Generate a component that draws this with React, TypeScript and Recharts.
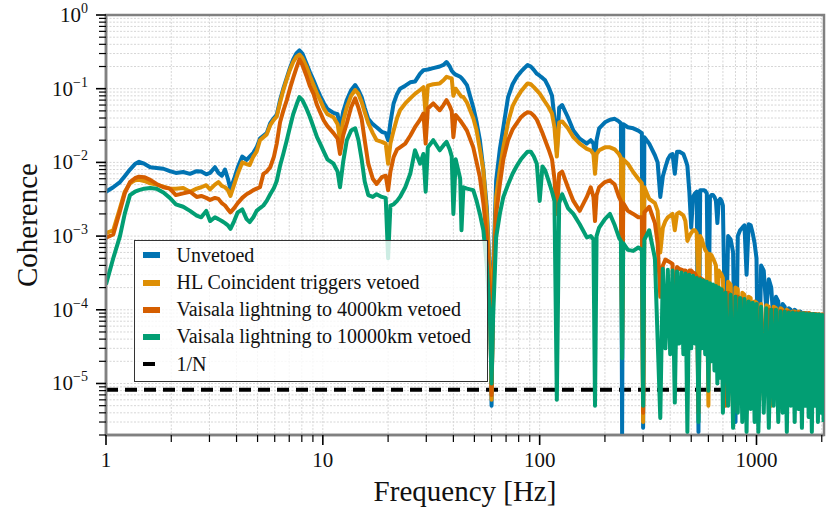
import { LineChart, Line, XAxis, YAxis, CartesianGrid, ReferenceArea } from "recharts";

const SERIF = '"Liberation Serif", "Times New Roman", serif';

const BLUE = "#0173B2";
const ORANGE = "#DE8F05";
const VERMILION = "#D55E00";
const GREEN = "#029E73";

// frequency grid shared by every spectrum (Hz)
const freqHz = [
  // 1 - 12 Hz
  1.0, 1.08, 1.16, 1.22, 1.29, 1.36, 1.42, 1.5, 1.6, 1.71,
  1.84, 1.97, 2.1, 2.27, 2.44, 2.62, 2.75, 2.9, 3.02, 3.18,
  3.3, 3.42, 3.54, 3.65, 3.75, 3.9, 4.05, 4.25, 4.45, 4.6,
  4.78, 4.95, 5.13, 5.32, 5.51, 5.72, 5.95, 6.13, 6.35, 6.57,
  6.82, 7.05, 7.3, 7.55, 7.8, 8.05, 8.4, 8.7, 9.06, 9.4,
  9.72, 10.1, 10.5, 11.2, 11.7,
  // 12 - 60 Hz
  12.0, 12.4, 12.9, 13.5, 14.1, 14.6, 15.1, 15.6, 16.2, 17.0,
  17.7, 18.7, 19.5, 20.0, 20.5, 21.2, 22.0, 22.7, 24.0, 25.3,
  26.6, 28.1, 29.1, 29.8, 30.5, 32.3, 34.6, 36.0, 37.2, 38.5,
  39.3, 40.0, 41.0, 43.0, 43.6, 44.5, 46.2, 49.4, 51.2, 53.0,
  55.0, 57.0, 59.0,
  // 60 - 320 Hz
  60, 61, 63, 65.5, 68, 71.5, 75, 78.5, 82, 85,
  88, 91, 94, 97, 100, 103, 106, 110, 114, 117,
  120, 123, 127, 135, 143, 153, 165, 172, 177, 180,
  183, 188, 200, 211, 222, 232, 237, 240, 243, 255,
  270, 285, 296, 300, 304, 320,
  // 340 - 700 Hz
  340, 350, 360, 370, 380, 390, 400, 410, 420, 430,
  440, 450, 460, 470, 480, 490, 500, 510, 520, 530,
  540, 550, 560, 570, 580, 590, 600, 610, 620, 630,
  640, 650, 660, 670, 680, 690, 700,
  // 720 - 1020 Hz
  720, 740, 760, 780, 800, 820, 840, 860, 880, 900,
  920, 940, 960, 980, 1000, 1020,
  // 1050 - 2040 Hz
  1050, 1080, 1110, 1140, 1170, 1200, 1230, 1260, 1290, 1320,
  1350, 1380, 1410, 1440, 1470, 1500, 1530, 1560, 1590, 1620,
  1650, 1680, 1710, 1740, 1770, 1800, 1830, 1860, 1890, 1920,
  1950, 1980, 2010, 2040,
];

const unvetoed = [
  4.0e-3, 4.6e-3, 5.4e-3, 6.5e-3, 8.0e-3, 9.5e-3, 1.02e-2, 9.6e-3, 8.6e-3, 8.4e-3,
  8.2e-3, 7.6e-3, 7.2e-3, 7.4e-3, 7.0e-3, 7.6e-3, 7.5e-3, 6.9e-3, 7.2e-3, 8.6e-3,
  7.2e-3, 6.6e-3, 8.0e-3, 6.0e-3, 4.3e-3, 6.0e-3, 8.5e-3, 1.2e-2, 1.08e-2, 1.2e-2,
  1.35e-2, 1.6e-2, 2.1e-2, 2.3e-2, 2.5e-2, 3.4e-2, 4.0e-2, 4.4e-2, 7.0e-2, 1.0e-1,
  1.4e-1, 1.9e-1, 2.5e-1, 3.0e-1, 3.3e-1, 3.0e-1, 2.2e-1, 1.7e-1, 1.3e-1, 1.0e-1,
  8.0e-2, 6.4e-2, 5.3e-2, 4.7e-2, 4.5e-2,

  2.9e-2, 4.8e-2, 7.0e-2, 9.5e-2, 1.12e-1, 9.5e-2, 7.7e-2, 5.5e-2, 3.9e-2, 3.3e-2,
  3.0e-2, 2.6e-2, 2.5e-2, 2.0e-2, 3.5e-2, 6.3e-2, 8.5e-2, 1.0e-1, 1.1e-1, 1.22e-1,
  1.25e-1, 1.6e-1, 1.78e-1, 1.8e-1, 1.82e-1, 1.9e-1, 2.0e-1, 2.1e-1, 2.3e-1, 2.0e-1,
  1.75e-1, 1.65e-1, 1.55e-1, 1.45e-1, 1.4e-1, 1.3e-1, 1.12e-1, 5.6e-2, 3.5e-2, 2.0e-2,
  8.0e-3, 2.5e-3, 3.0e-4,

  5.0e-6, 3.0e-4, 5.7e-3, 1.5e-2, 3.0e-2, 7.7e-2, 1.15e-1, 1.45e-1, 1.7e-1, 1.9e-1,
  2.1e-1, 2.0e-1, 1.8e-1, 1.6e-1, 1.5e-1, 1.4e-1, 1.3e-1, 1.05e-1, 8.0e-2, 4.0e-2,
  1.4e-2, 5.5e-2, 6.0e-2, 4.1e-2, 2.7e-2, 2.1e-2, 1.8e-2, 2.0e-2, 1.8e-2, 1.06e-2,
  2.0e-2, 2.9e-2, 3.5e-2, 3.8e-2, 3.9e-2, 3.6e-2, 3.4e-2, 2.0e-6, 3.3e-2, 3.0e-2,
  2.9e-2, 2.7e-2, 2.5e-2, 2.5e-6, 2.2e-2, 1.8e-2,

  1.25e-2, 1.0e-2, 3.4e-3, 6.5e-3, 8.6e-3, 1.1e-2, 1.25e-2, 1.3e-2, 7.0e-3, 1.4e-2,
  1.4e-2, 1.35e-2, 1.3e-2, 1.1e-2, 9.0e-3, 4.0e-3, 1.3e-3, 3.4e-3, 3.8e-3, 4.0e-3,
  2.2e-6, 4.2e-3, 4.2e-3, 4.2e-3, 4.1e-3, 3.8e-3, 3.0e-5, 3.4e-3, 3.6e-3, 3.6e-3,
  3.4e-3, 3.0e-3, 1.5e-3, 3.0e-3, 3.2e-3, 3.0e-3, 2.6e-3,

  2.0e-5, 1.0e-3, 9.0e-4, 6.0e-4, 3.0e-6, 1.0e-3, 1.2e-3, 1.3e-3, 1.4e-3, 3.0e-4,
  1.45e-3, 1.4e-3, 1.1e-3, 8.0e-4, 5.0e-4, 3.0e-6,

  4.0e-4, 3.4e-4, 1.0e-4, 2.6e-4, 2.0e-4, 6.0e-5, 1.5e-4, 1.3e-4, 4.0e-5, 1.2e-4,
  1.1e-4, 3.0e-5, 1.05e-4, 1.0e-4, 3.0e-5, 1.0e-4, 9.5e-5, 2.0e-5, 9.5e-5, 9.0e-5,
  2.0e-5, 9.0e-5, 9.0e-5, 2.0e-5, 8.8e-5, 8.8e-5, 2.0e-5, 8.6e-5, 8.6e-5, 2.0e-5,
  8.5e-5, 8.5e-5, 2.0e-5, 8.4e-5,
];

const hlVetoed = [
  1.1e-3, 1.2e-3, 2.4e-3, 4.0e-3, 5.2e-3, 5.7e-3, 5.8e-3, 5.6e-3, 5.2e-3, 5.0e-3,
  4.7e-3, 4.4e-3, 4.4e-3, 4.5e-3, 4.0e-3, 4.4e-3, 4.6e-3, 4.9e-3, 4.3e-3, 5.0e-3,
  5.4e-3, 4.8e-3, 4.6e-3, 4.2e-3, 3.5e-3, 5.0e-3, 7.0e-3, 1.0e-2, 9.5e-3, 9.2e-3,
  1.2e-2, 1.4e-2, 2.0e-2, 2.2e-2, 2.4e-2, 3.2e-2, 3.8e-2, 4.2e-2, 6.5e-2, 9.5e-2,
  1.35e-1, 1.8e-1, 2.3e-1, 2.7e-1, 2.9e-1, 2.6e-1, 2.0e-1, 1.5e-1, 1.12e-1, 8.6e-2,
  7.0e-2, 5.4e-2, 4.5e-2, 4.1e-2, 3.3e-2,

  2.0e-2, 3.6e-2, 5.6e-2, 8.0e-2, 9.6e-2, 8.5e-2, 6.6e-2, 4.8e-2, 3.4e-2, 2.5e-2,
  2.0e-2, 1.9e-2, 1.8e-2, 9.6e-3, 1.8e-2, 2.7e-2, 4.0e-2, 5.1e-2, 6.3e-2, 7.4e-2,
  8.5e-2, 9.6e-2, 1.05e-1, 4.5e-2, 1.1e-1, 1.15e-1, 1.18e-1, 1.3e-1, 1.45e-1, 1.4e-1,
  1.38e-1, 8.0e-2, 1.0e-1, 8.2e-2, 7.8e-2, 7.7e-2, 6.5e-2, 4.0e-2, 2.7e-2, 1.5e-2,
  7.8e-3, 2.0e-3, 2.5e-4,

  6.0e-6, 2.5e-4, 3.4e-3, 8.0e-3, 1.6e-2, 3.5e-2, 5.8e-2, 7.5e-2, 9.2e-2, 1.05e-1,
  1.18e-1, 1.15e-1, 1.05e-1, 9.5e-2, 8.6e-2, 7.5e-2, 6.6e-2, 5.6e-2, 4.6e-2, 3.0e-2,
  1.2e-2, 3.5e-2, 3.6e-2, 2.9e-2, 2.2e-2, 1.8e-2, 1.53e-2, 1.46e-2, 1.3e-2, 7.0e-3,
  1.3e-2, 1.46e-2, 1.6e-2, 1.6e-2, 1.5e-2, 1.3e-2, 1.15e-2, 3.0e-5, 1.1e-2, 9.6e-3,
  7.4e-3, 6.0e-3, 5.2e-3, 3.0e-6, 4.6e-3, 3.2e-3,

  2.8e-3, 2.2e-3, 6.0e-4, 1.3e-3, 1.6e-3, 1.8e-3, 1.9e-3, 2.0e-3, 1.2e-3, 2.0e-3,
  2.1e-3, 2.0e-3, 1.9e-3, 1.6e-3, 8.6e-4, 1.0e-3, 1.1e-3, 1.2e-3, 1.2e-3, 1.1e-3,
  1.5e-4, 1.0e-3, 9.0e-4, 7.5e-4, 6.5e-4, 6.0e-4, 5.0e-6, 5.7e-4, 5.5e-4, 5.0e-4,
  4.5e-4, 4.0e-4, 8.0e-5, 3.4e-4, 3.2e-4, 3.0e-4, 2.7e-4,

  8.0e-6, 2.4e-4, 2.2e-4, 4.0e-6, 2.0e-4, 1.9e-4, 1.0e-5, 1.7e-4, 1.6e-4, 4.0e-6,
  1.5e-4, 1.45e-4, 1.0e-5, 1.3e-4, 1.25e-4, 5.0e-6,

  1.2e-4, 6.0e-6, 1.15e-4, 1.1e-4, 5.0e-6, 1.1e-4, 1.05e-4, 8.0e-6, 1.05e-4, 1.0e-4,
  1.0e-5, 1.0e-4, 9.5e-5, 1.2e-5, 9.5e-5, 9.5e-5, 1.0e-5, 9.5e-5, 9.0e-5, 1.2e-5,
  9.0e-5, 9.0e-5, 1.0e-5, 9.0e-5, 8.8e-5, 1.2e-5, 8.8e-5, 8.8e-5, 1.0e-5, 8.6e-5,
  8.6e-5, 1.2e-5, 8.6e-5, 8.5e-5,
];

const vaisala4000 = [
  9.5e-4, 1.05e-3, 2.2e-3, 3.8e-3, 5.4e-3, 6.1e-3, 6.4e-3, 6.3e-3, 5.8e-3, 5.1e-3,
  4.6e-3, 4.4e-3, 3.6e-3, 3.8e-3, 4.0e-3, 3.4e-3, 3.5e-3, 3.3e-3, 3.1e-3, 3.3e-3,
  3.2e-3, 2.8e-3, 2.6e-3, 2.3e-3, 2.1e-3, 2.4e-3, 2.8e-3, 3.3e-3, 3.7e-3, 3.9e-3,
  4.2e-3, 4.4e-3, 4.6e-3, 7.0e-3, 7.5e-3, 8.6e-3, 1.2e-2, 1.8e-2, 3.5e-2, 5.0e-2,
  7.0e-2, 1.0e-1, 1.4e-1, 1.9e-1, 2.5e-1, 2.1e-1, 1.5e-1, 1.1e-1, 8.5e-2, 6.0e-2,
  4.8e-2, 3.7e-2, 3.1e-2, 2.5e-2, 2.1e-2,

  1.3e-2, 2.3e-2, 3.4e-2, 5.6e-2, 7.4e-2, 5.5e-2, 3.9e-2, 2.0e-2, 9.6e-3, 6.0e-3,
  5.1e-3, 6.3e-3, 6.6e-3, 4.2e-3, 7.5e-3, 1.18e-2, 1.5e-2, 1.6e-2, 1.8e-2, 2.3e-2,
  3.0e-2, 3.8e-2, 4.6e-2, 1.8e-2, 5.4e-2, 6.3e-2, 5.1e-2, 6.0e-2, 7.0e-2, 5.8e-2,
  5.0e-2, 2.2e-2, 4.4e-2, 3.7e-2, 3.5e-2, 3.2e-2, 2.7e-2, 1.6e-2, 1.0e-2, 6.3e-3,
  2.8e-3, 1.0e-3, 1.5e-4,

  7.0e-6, 1.5e-4, 2.0e-3, 5.0e-3, 1.1e-2, 2.0e-2, 2.8e-2, 3.4e-2, 4.1e-2, 4.5e-2,
  4.8e-2, 4.7e-2, 4.3e-2, 3.8e-2, 3.1e-2, 2.5e-2, 2.0e-2, 1.5e-2, 1.1e-2, 6.0e-3,
  2.0e-3, 7.0e-3, 7.5e-3, 4.6e-3, 3.0e-3, 2.2e-3, 3.4e-3, 4.6e-3, 3.4e-3, 1.6e-3,
  3.6e-3, 4.6e-3, 5.4e-3, 5.7e-3, 5.0e-3, 3.4e-3, 3.0e-3, 5.0e-5, 2.8e-3, 2.2e-3,
  2.0e-3, 1.8e-3, 1.8e-3, 4.0e-6, 2.1e-3, 2.5e-3,

  1.5e-3, 8.0e-4, 1.5e-4, 4.0e-4, 4.8e-4, 4.6e-4, 4.4e-4, 4.2e-4, 3.0e-5, 3.8e-4,
  3.6e-4, 3.5e-4, 3.4e-4, 3.4e-4, 2.0e-5, 3.4e-4, 3.4e-4, 3.2e-4, 3.1e-4, 2.8e-4,
  4.0e-6, 2.7e-4, 2.6e-4, 2.5e-4, 2.4e-4, 2.2e-4, 2.0e-5, 2.2e-4, 2.1e-4, 2.1e-4,
  2.0e-4, 2.0e-4, 1.5e-5, 1.9e-4, 1.9e-4, 1.85e-4, 1.8e-4,

  5.0e-6, 1.7e-4, 1.6e-4, 4.0e-6, 1.5e-4, 1.5e-4, 6.0e-6, 1.4e-4, 1.3e-4, 1.5e-5,
  1.25e-4, 1.2e-4, 5.0e-6, 1.15e-4, 1.1e-4, 1.5e-5,

  1.05e-4, 1.5e-5, 1.0e-4, 1.0e-4, 1.2e-5, 1.0e-4, 9.8e-5, 4.0e-6, 9.6e-5, 9.5e-5,
  1.5e-5, 9.4e-5, 9.4e-5, 1.2e-5, 9.2e-5, 9.2e-5, 1.5e-5, 9.2e-5, 9.0e-5, 1.2e-5,
  9.0e-5, 9.0e-5, 1.5e-5, 9.0e-5, 8.8e-5, 1.2e-5, 8.8e-5, 8.8e-5, 1.5e-5, 8.6e-5,
  8.6e-5, 1.2e-5, 8.6e-5, 8.5e-5,
];

const vaisala10000 = [
  2.2e-4, 5.0e-4, 1.0e-3, 2.0e-3, 3.6e-3, 4.0e-3, 4.2e-3, 4.4e-3, 4.5e-3, 4.4e-3,
  3.9e-3, 3.3e-3, 2.7e-3, 2.5e-3, 2.2e-3, 1.9e-3, 1.8e-3, 2.2e-3, 1.6e-3, 1.8e-3,
  1.7e-3, 1.6e-3, 1.5e-3, 1.4e-3, 1.25e-3, 1.6e-3, 2.1e-3, 2.3e-3, 1.7e-3, 1.55e-3,
  1.8e-3, 2.2e-3, 2.4e-3, 2.6e-3, 3.0e-3, 3.7e-3, 4.5e-3, 5.6e-3, 9.0e-3, 1.3e-2,
  2.0e-2, 3.0e-2, 4.5e-2, 6.0e-2, 7.7e-2, 7.0e-2, 5.4e-2, 4.2e-2, 3.0e-2, 2.2e-2,
  1.8e-2, 1.4e-2, 1.1e-2, 9.6e-3, 7.5e-3,

  4.6e-3, 1.0e-2, 2.0e-2, 2.7e-2, 2.9e-2, 2.0e-2, 1.1e-2, 5.5e-3, 3.6e-3, 3.4e-3,
  3.7e-3, 3.4e-3, 3.3e-3, 5.0e-4, 2.6e-3, 2.7e-3, 3.0e-3, 3.4e-3, 4.6e-3, 7.0e-3,
  1.46e-2, 9.6e-3, 1.3e-2, 4.0e-3, 1.6e-2, 2.0e-2, 1.46e-2, 1.7e-2, 1.9e-2, 1.5e-2,
  1.2e-2, 2.0e-3, 1.1e-2, 6.0e-3, 1.2e-3, 4.6e-3, 4.4e-3, 4.2e-3, 3.0e-3, 2.0e-3,
  1.2e-3, 4.0e-4, 8.0e-5,

  1.0e-5, 8.0e-5, 9.6e-4, 2.0e-3, 3.4e-3, 5.0e-3, 7.0e-3, 9.0e-3, 1.1e-2, 1.25e-2,
  1.4e-2, 1.4e-2, 1.2e-2, 9.6e-3, 3.0e-3, 8.8e-3, 7.8e-3, 5.6e-3, 4.0e-3, 3.0e-3,
  6.0e-6, 2.8e-3, 3.7e-3, 2.4e-3, 2.0e-3, 1.45e-3, 9.6e-4, 1.0e-3, 9.0e-4, 5.0e-6,
  1.0e-3, 1.3e-3, 1.7e-3, 2.0e-3, 1.4e-3, 9.6e-4, 8.6e-4, 2.2e-5, 8.0e-4, 6.5e-4,
  6.3e-4, 7.0e-4, 6.5e-4, 5.0e-6, 9.0e-4, 1.2e-3,

  5.0e-4, 4.0e-5, 3.4e-6, 3.6e-4, 3.0e-5, 3.5e-4, 2.5e-5, 3.4e-4, 5.5e-6, 3.3e-4,
  3.5e-5, 3.2e-4, 2.5e-5, 3.1e-4, 2.2e-6, 3.0e-4, 3.0e-5, 2.9e-4, 3.5e-5, 2.7e-4,
  3.0e-6, 2.6e-4, 3.0e-5, 2.5e-4, 2.5e-5, 2.4e-4, 8.0e-6, 2.3e-4, 2.0e-5, 2.2e-4,
  1.5e-5, 2.1e-4, 1.0e-5, 2.0e-4, 1.2e-5, 1.9e-4, 4.0e-6,

  1.7e-4, 5.0e-6, 1.6e-4, 2.5e-6, 1.5e-4, 4.0e-6, 1.45e-4, 3.0e-6, 1.4e-4, 2.2e-6,
  1.3e-4, 4.5e-6, 1.25e-4, 3.0e-6, 1.2e-4, 2.2e-6,

  1.1e-4, 4.0e-6, 1.05e-4, 2.5e-6, 1.0e-4, 5.0e-6, 1.0e-4, 3.0e-6, 9.5e-5, 4.0e-6,
  9.5e-5, 2.2e-6, 9.2e-5, 5.0e-6, 9.2e-5, 3.0e-6, 9.0e-5, 4.5e-6, 9.0e-5, 2.5e-6,
  9.0e-5, 5.0e-6, 8.8e-5, 3.5e-6, 8.8e-5, 2.2e-6, 8.8e-5, 5.0e-6, 8.6e-5, 3.0e-6,
  8.6e-5, 4.0e-6, 8.5e-5, 3.0e-6,
];

// 1/N noise floor
const inverseN = 8.2e-6;

const X_DOMAIN = [1, 2048];
const Y_DOMAIN = [2e-6, 1];

// decade ticks carry labels; the 2..9 ticks in between are short and unlabelled
const xTicks = [1, 10, 100, 1000].flatMap((d) =>
  [1, 2, 3, 4, 5, 6, 7, 8, 9].map((m) => m * d)
).filter((v) => v <= 2048);
const yTicks = [-6, -5, -4, -3, -2, -1, 0].flatMap((d) =>
  [1, 2, 3, 4, 5, 6, 7, 8, 9].map((m) => m * Math.pow(10, d))
).filter((v) => v >= 2e-6 && v <= 1.0000001);

const series = [
  { key: "unvetoed", label: "Unvetoed", color: BLUE },
  { key: "hl", label: "HL Coincident triggers vetoed", color: ORANGE },
  { key: "v4000", label: "Vaisala lightning to 4000km vetoed", color: VERMILION },
  { key: "v10000", label: "Vaisala lightning to 10000km vetoed", color: GREEN },
];

const rows = freqHz.map((f, i) => ({
  f,
  unvetoed: unvetoed[i],
  hl: hlVetoed[i],
  v4000: vaisala4000[i],
  v10000: vaisala10000[i],
  oneOverN: inverseN,
}));

const FRAME = { stroke: "#808080", strokeWidth: 2.5 };

const isDecade = (v: number) => {
  const l = Math.log10(v);
  return Math.abs(l - Math.round(l)) < 1e-6;
};

function XTick({ x, y, payload }: any) {
  const major = isDecade(payload.value);
  const axisY = y - 12;
  return (
    <g>
      <line
        x1={x}
        x2={x}
        y1={axisY}
        y2={axisY + (major ? 10 : 7)}
        stroke="#000"
        strokeWidth={major ? 1.6 : 1.2}
      />
      {major && (
        <text x={x} y={y + 20} textAnchor="middle" fontSize={21} fontFamily={SERIF} fill="#111">
          {payload.value}
        </text>
      )}
    </g>
  );
}

function YTick({ x, y, payload }: any) {
  const major = isDecade(payload.value);
  const axisX = x + 18;
  const exp = Math.round(Math.log10(payload.value));
  return (
    <g>
      <line
        x1={axisX}
        x2={axisX - (major ? 10 : 7)}
        y1={y}
        y2={y}
        stroke="#000"
        strokeWidth={major ? 1.6 : 1.2}
      />
      {major && (
        <text x={x} y={y + 7} textAnchor="end" fontSize={21} fontFamily={SERIF} fill="#111">
          10
          <tspan dy={-9} fontSize={14}>
            {exp === 0 ? "0" : `\u2212${-exp}`}
          </tspan>
        </text>
      )}
    </g>
  );
}

function Legend() {
  const items = [
    ...series.map((s) => ({ label: s.label, color: s.color, dashed: false })),
    { label: "1/N", color: "#000", dashed: true },
  ];
  return (
    <div
      style={{
        position: "absolute",
        left: 134,
        top: 240,
        width: 354,
        height: 142,
        boxSizing: "border-box",
        border: "1.2px solid #333",
        background: "rgba(255,255,255,0.8)",
        fontFamily: SERIF,
        fontSize: 20,
        color: "#111",
      }}
    >
      {items.map((item, i) => (
        <div
          key={item.label}
          style={{
            position: "absolute",
            left: 0,
            top: 0.8 + i * 27.2,
            height: 27,
            width: "100%",
            display: "flex",
            alignItems: "center",
          }}
        >
          <span
            style={{
              position: "absolute",
              left: 8,
              width: item.dashed ? 12 : 17,
              height: item.dashed ? 4 : 6,
              background: item.color,
            }}
          />
          <span style={{ position: "absolute", left: 41.5, whiteSpace: "nowrap" }}>{item.label}</span>
        </div>
      ))}
    </div>
  );
}

export default function App() {
  return (
    <div style={{ position: "absolute", left: 0, top: 0, width: 836, height: 509, background: "#fff" }}>
      <LineChart width={836} height={509} data={rows} margin={{ top: 15, right: 12, bottom: 0, left: 0 }}>
        <CartesianGrid stroke="#d6d6d6" strokeDasharray="2 1.5" />

        <XAxis
          dataKey="f"
          type="number"
          scale="log"
          domain={X_DOMAIN}
          allowDataOverflow
          ticks={xTicks}
          interval={0}
          tickSize={10}
          tickMargin={2}
          tickLine={false}
          axisLine={FRAME}
          tick={<XTick />}
          height={74}
          label={{
            content: ({ viewBox }: any) => (
              <text
                x={viewBox.x + viewBox.width / 2}
                y={viewBox.y + 66}
                textAnchor="middle"
                fontSize={29}
                fontFamily={SERIF}
                fill="#111"
              >
                Frequency [Hz]
              </text>
            ),
          }}
        />
        <YAxis
          type="number"
          scale="log"
          domain={Y_DOMAIN}
          allowDataOverflow
          ticks={yTicks}
          interval={0}
          tickSize={10}
          tickMargin={8}
          tickLine={false}
          axisLine={FRAME}
          tick={<YTick />}
          width={106}
          label={{
            content: ({ viewBox }: any) => {
              const cx = 37;
              const cy = viewBox.y + viewBox.height / 2;
              return (
                <text
                  x={cx}
                  y={cy}
                  transform={`rotate(-90, ${cx}, ${cy})`}
                  textAnchor="middle"
                  fontSize={29}
                  fontFamily={SERIF}
                  fill="#111"
                >
                  Coherence
                </text>
              );
            },
          }}
        />

        <Line
          dataKey="oneOverN"
          stroke="#000"
          strokeWidth={4}
          strokeDasharray="12 7"
          dot={false}
          isAnimationActive={false}
        />
        {series.map((s) => (
          <Line
            key={s.key}
            dataKey={s.key}
            stroke={s.color}
            strokeWidth={4}
            strokeLinejoin="round"
            dot={false}
            isAnimationActive={false}
          />
        ))}

        <ReferenceArea
          x1={X_DOMAIN[0]}
          x2={X_DOMAIN[1]}
          y1={Y_DOMAIN[0]}
          y2={Y_DOMAIN[1]}
          fill="none"
          stroke={FRAME.stroke}
          strokeWidth={FRAME.strokeWidth}
          ifOverflow="visible"
        />
      </LineChart>
      <Legend />
    </div>
  );
}
